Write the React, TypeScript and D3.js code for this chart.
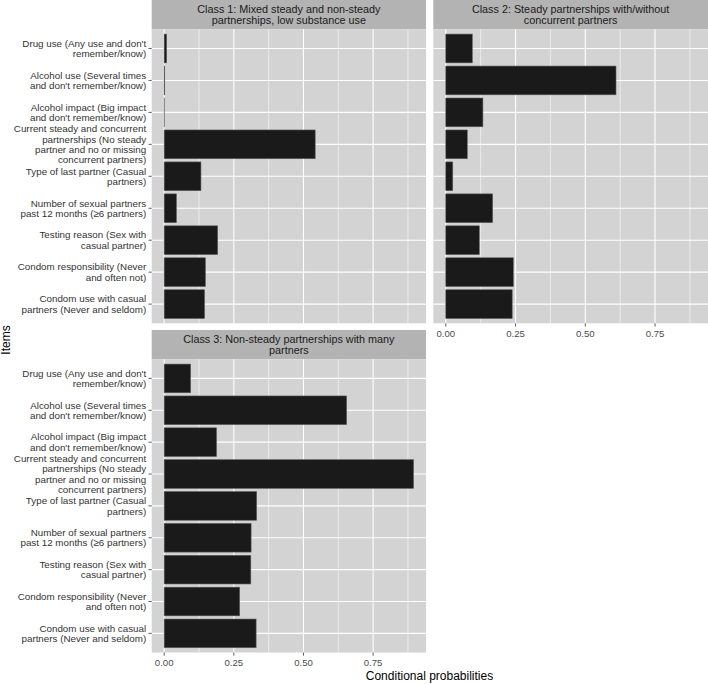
import React from 'react';
import * as d3 from 'd3';

const items: string[] = [
  "Drug use (Any use and don't\nremember/know)",
  "Alcohol use (Several times\nand don't remember/know)",
  "Alcohol impact (Big impact\nand don't remember/know)",
  "Current steady and concurrent\npartnerships (No steady\npartner and no or missing\nconcurrent partners)",
  "Type of last partner (Casual\npartners)",
  "Number of sexual partners\npast 12 months (≥6 partners)",
  "Testing reason (Sex with\ncasual partner)",
  "Condom responsibility (Never\nand often not)",
  "Condom use with casual\npartners (Never and seldom)",
];

const classTitles: string[] = [
  "Class 1: Mixed steady and non-steady\npartnerships, low substance use",
  "Class 2: Steady partnerships with/without\nconcurrent partners",
  "Class 3: Non-steady partnerships with many\npartners",
];

const class1: number[] = [0.009, 0.002, 0.0005, 0.542, 0.132, 0.044, 0.192, 0.148, 0.145];
const class2: number[] = [0.095, 0.61, 0.133, 0.077, 0.025, 0.168, 0.12, 0.242, 0.238];
const class3: number[] = [0.095, 0.655, 0.188, 0.895, 0.332, 0.312, 0.311, 0.271, 0.33];

const xTicks: number[] = [0, 0.25, 0.5, 0.75];
const xTickLabels: string[] = ["0.00", "0.25", "0.50", "0.75"];
const xMinor: number[] = [0.125, 0.375, 0.625, 0.875];

const yAxisTitle = "Items";
const xAxisTitle = "Conditional probabilities";

const FONT = "'Liberation Sans', Arial, Helvetica, sans-serif";
const PANEL_BG = "#d3d3d3";
const STRIP_BG = "#b3b3b3";
const BAR_FILL = "#1a1a1a";
const BAR_STROKE = "#5e5e5e";
const AXIS_TXT = "#333333";

const allMax = d3.max([...class1, ...class2, ...class3]) as number;
const expand = allMax * 0.05;

type PanelProps = {
  x0: number; x1: number; stripTop: number; panelTop: number; panelBottom: number;
  title: string; values: number[]; showY: boolean; showX: boolean;
};

function Panel({ x0, x1, stripTop, panelTop, panelBottom, title, values, showY, showX }: PanelProps) {
  const x = d3.scaleLinear().domain([-expand, allMax + expand]).range([x0, x1]);
  const y = d3.scaleBand<string>().domain(items).range([panelTop, panelBottom]).paddingInner(0.1).paddingOuter(0.15);
  const titleLines = title.split("\n");
  const stripMid = (stripTop + panelTop) / 2;
  const tlh = 11;
  return (
    <g>
      <rect x={x0} y={stripTop} width={x1 - x0} height={panelTop - stripTop} fill={STRIP_BG} />
      {titleLines.map((t, i) => (
        <text key={i} x={(x0 + x1) / 2} y={stripMid + (i - (titleLines.length - 1) / 2) * tlh + 0.3}
          dy="0.35em" textAnchor="middle" fontSize={10.8} fill="#1a1a1a" fontFamily={FONT}>{t}</text>
      ))}
      <rect x={x0} y={panelTop} width={x1 - x0} height={panelBottom - panelTop} fill={PANEL_BG} />
      {xMinor.map((v) => (
        <line key={"m" + v} x1={x(v)} x2={x(v)} y1={panelTop} y2={panelBottom} stroke="#fff" strokeWidth={0.55} />
      ))}
      {xTicks.map((v) => (
        <line key={"M" + v} x1={x(v)} x2={x(v)} y1={panelTop} y2={panelBottom} stroke="#fff" strokeWidth={1.1} />
      ))}
      {items.map((it) => {
        const cy = (y(it) as number) + y.bandwidth() / 2;
        return <line key={"h" + it} x1={x0} x2={x1} y1={cy} y2={cy} stroke="#fff" strokeWidth={1.1} />;
      })}
      {items.map((it, i) => {
        const v = values[i];
        return (
          <rect key={"b" + it} x={x(0)} y={y(it) as number} width={Math.max(0, x(v) - x(0))} height={y.bandwidth()}
            fill={BAR_FILL} stroke={BAR_STROKE} strokeWidth={0.6} />
        );
      })}
      {showY && items.map((it) => {
        const cy = (y(it) as number) + y.bandwidth() / 2;
        const lines = it.split("\n");
        const lh = 10.35;
        return (
          <g key={"y" + it}>
            <line x1={x0 - 3.2} x2={x0} y1={cy} y2={cy} stroke={AXIS_TXT} strokeWidth={0.8} />
            {lines.map((l, k) => (
              <text key={k} x={x0 - 5.5} y={cy + (k - (lines.length - 1) / 2) * lh} dy="0.35em"
                textAnchor="end" fontSize={9.8} fill={AXIS_TXT} fontFamily={FONT}>{l}</text>
            ))}
          </g>
        );
      })}
      {showX && xTicks.map((v, i) => (
        <g key={"x" + v}>
          <line x1={x(v)} x2={x(v)} y1={panelBottom} y2={panelBottom + 3.2} stroke={AXIS_TXT} strokeWidth={0.8} />
          <text x={x(v)} y={panelBottom + 13.7} textAnchor="middle" fontSize={9.6} fill="#4d4d4d" fontFamily={FONT}>{xTickLabels[i]}</text>
        </g>
      ))}
    </g>
  );
}

export default function App() {
  const W = 708, H = 684;
  const series = [class1, class2, class3];
  return (
    <svg width={W} height={H} style={{ position: 'absolute', left: 0, top: 0, background: '#fff' }}>
      <rect x={0} y={0} width={W} height={H} fill="#fff" />
      <Panel x0={151.7} x1={426} stripTop={0} panelTop={29.3} panelBottom={323.3} title={classTitles[0]} values={series[0]} showY={true} showX={false} />
      <Panel x0={433.3} x1={708} stripTop={0} panelTop={29.3} panelBottom={323.3} title={classTitles[1]} values={series[1]} showY={false} showX={true} />
      <Panel x0={151.7} x1={426} stripTop={330} panelTop={359.3} panelBottom={652.5} title={classTitles[2]} values={series[2]} showY={true} showX={true} />
      <text transform="translate(9.5,340) rotate(-90)" textAnchor="middle" fontSize={12} fill="#000" fontFamily={FONT}>{yAxisTitle}</text>
      <text x={429.5} y={679.5} textAnchor="middle" fontSize={12} fill="#000" fontFamily={FONT}>{xAxisTitle}</text>
    </svg>
  );
}
